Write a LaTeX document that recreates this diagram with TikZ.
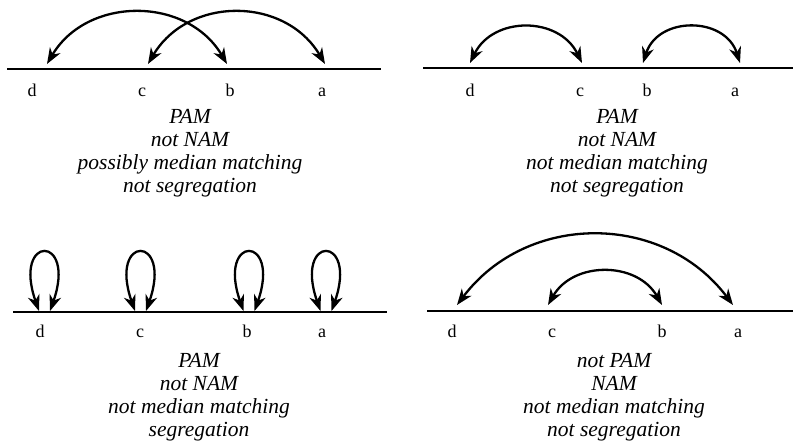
\documentclass[tikz,border=0pt]{standalone}
\usepackage{fontspec}
\setmainfont{Liberation Serif}
\usetikzlibrary{arrows.meta}
\begin{document}
\begin{tikzpicture}[x=1pt,y=-1pt,
  axis/.style={line width=1.1pt},
  link/.style={line width=2.3pt,
    {Stealth[length=16pt,width=12pt,inset=5pt]}-{Stealth[length=16pt,width=12pt,inset=5pt]}},
  lbl/.style={anchor=base, inner sep=0pt, font=\fontsize{18}{20}\selectfont},
  txt/.style={anchor=base, inner sep=0pt, font=\fontsize{21.5}{23}\selectfont\itshape}]
\useasboundingbox (0,0) rectangle (793,440);

% ---------- Panel 1 (top left) ----------
\coordinate (s1) at (7,69); \coordinate (e1) at (381,69);
\draw[axis] (s1) -- (e1);
\node[lbl] (l1d) at (32,96) {d};
\node[lbl] (l1c) at (142,96) {c};
\node[lbl] (l1b) at (230,96) {b};
\node[lbl] (l1a) at (322,96) {a};
\coordinate (t1d) at (47,64); \coordinate (t1c) at (148,64);
\coordinate (t1b) at (227,64); \coordinate (t1a) at (325,64);
\draw[link] (t1b) .. controls +(-40,-68) and +(40,-68) .. (t1d);
\draw[link] (t1c) .. controls +(40,-68) and +(-40,-68) .. (t1a);
\node[txt] (p1a) at (190,123) {PAM};
\node[txt] (p1b) at (190,146) {not NAM};
\node[txt] (p1c) at (190,169) {possibly median matching};
\node[txt] (p1d) at (190,192) {not segregation};

% ---------- Panel 2 (top right) ----------
\coordinate (s2) at (423,68); \coordinate (e2) at (793,68);
\draw[axis] (s2) -- (e2);
\node[lbl] (l2d) at (470,96) {d};
\node[lbl] (l2c) at (580,96) {c};
\node[lbl] (l2b) at (647,96) {b};
\node[lbl] (l2a) at (735,96) {a};
\coordinate (t2d) at (470,63); \coordinate (t2c) at (582,63);
\coordinate (t2b) at (643,63); \coordinate (t2a) at (740,63);
\draw[link] (t2c) .. controls +(-23,-47) and +(23,-47) .. (t2d);
\draw[link] (t2a) .. controls +(-15,-47) and +(15,-47) .. (t2b);
\node[txt] (p2a) at (617,123) {PAM};
\node[txt] (p2b) at (617,146) {not NAM};
\node[txt] (p2c) at (617,169) {not median matching};
\node[txt] (p2d) at (617,192) {not segregation};

% ---------- Panel 3 (bottom left) ----------
\coordinate (s3) at (13,312); \coordinate (e3) at (387,312);
\draw[axis] (s3) -- (e3);
\node[lbl] (l3d) at (40,337) {d};
\node[lbl] (l3c) at (140,337) {c};
\node[lbl] (l3b) at (247,337) {b};
\node[lbl] (l3a) at (322,337) {a};
\foreach \n/\cx in {d/44.5, c/140.5, b/249, a/326}{
  \coordinate (r3\n) at (\cx+5.5,311);
  \coordinate (q3\n) at (\cx-5.5,311);
  \draw[link] (r3\n) .. controls +(27,-77) and +(-27,-77) .. (q3\n);
}
\node[txt] (p3a) at (199,367) {PAM};
\node[txt] (p3b) at (199,390) {not NAM};
\node[txt] (p3c) at (199,413) {not median matching};
\node[txt] (p3d) at (199,436) {segregation};

% ---------- Panel 4 (bottom right) ----------
\coordinate (s4) at (427,311); \coordinate (e4) at (793,311);
\draw[axis] (s4) -- (e4);
\node[lbl] (l4d) at (452,337) {d};
\node[lbl] (l4c) at (552,337) {c};
\node[lbl] (l4b) at (662,337) {b};
\node[lbl] (l4a) at (738,337) {a};
\coordinate (t4d) at (457,305); \coordinate (t4c) at (548,305);
\coordinate (t4b) at (662,305); \coordinate (t4a) at (733,305);
\draw[link] (t4a) .. controls +(-70,-93) and +(70,-93) .. (t4d);
\draw[link] (t4b) .. controls +(-25,-44) and +(25,-44) .. (t4c);
\node[txt] (p4a) at (614,367) {not PAM};
\node[txt] (p4b) at (614,390) {NAM};
\node[txt] (p4c) at (614,413) {not median matching};
\node[txt] (p4d) at (614,436) {not segregation};
\end{tikzpicture}
\end{document}
